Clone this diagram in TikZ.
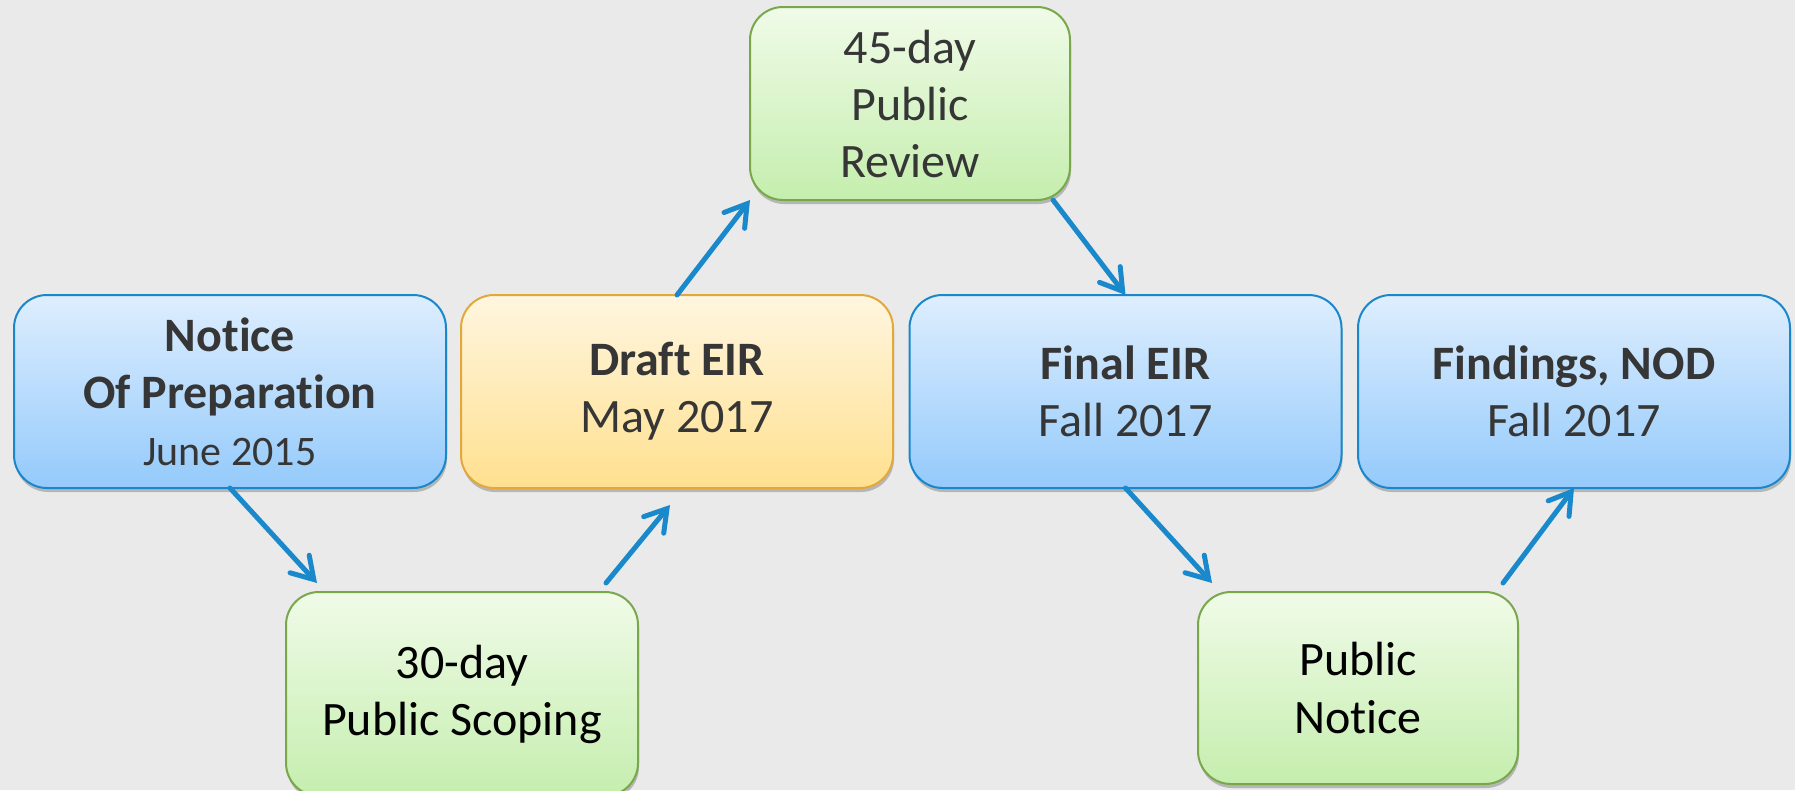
\documentclass[tikz,border=0pt]{standalone}
\usepackage{fontspec}
\setmainfont[Ligatures=NoCommon]{Carlito}
\usetikzlibrary{arrows.meta,calc,shadows}
\definecolor{bg}{HTML}{EAEAEA}
\definecolor{bluetop}{HTML}{DEEEFE}
\definecolor{bluebot}{HTML}{94CAFB}
\definecolor{blueline}{HTML}{1A87CB}
\definecolor{yeltop}{HTML}{FFF6E0}
\definecolor{yelbot}{HTML}{FFE08F}
\definecolor{yelline}{HTML}{E2A83C}
\definecolor{grntop}{HTML}{F0FBE8}
\definecolor{grnbot}{HTML}{C5EEAE}
\definecolor{grnline}{HTML}{78A84B}
\definecolor{txt}{HTML}{363636}
\definecolor{arrowc}{HTML}{1A89CC}
\begin{document}
\begin{tikzpicture}[x=1pt,y=-1pt,
  box/.style={rounded corners=33pt, line width=2pt, inner sep=0pt, outer sep=0pt,
    align=center, font=\fontsize{48}{57}\selectfont,
    drop shadow={shadow xshift=1pt, shadow yshift=-4pt, opacity=0.22, fill=black}},
  bluebox/.style={box, draw=blueline, top color=bluetop, bottom color=bluebot, text=txt,
    minimum width=432pt, minimum height=193pt},
  yelbox/.style={box, draw=yelline, top color=yeltop, bottom color=yelbot, text=txt,
    minimum width=432pt, minimum height=193pt},
  grnbox/.style={box, draw=grnline, top color=grntop, bottom color=grnbot},
  arr/.style={draw=arrowc, line width=5pt, line cap=round,
    -{Straight Barb[length=21pt,width=26pt,line cap=round]}}
]
\fill[bg] (0,0) rectangle (1795,790);
\useasboundingbox (0,0) rectangle (1795,790);

\node[bluebox] (notice) at (230,391.5)
  {{\bfseries Notice}\\{\bfseries Of Preparation}\\{\fontsize{42}{55}\selectfont June 2015}};
\node[yelbox] (draft) at (677,391.5)
  {{\bfseries Draft EIR}\\May 2017};
\node[bluebox] (final) at (1125.5,391.5)
  {{\bfseries Final EIR}\\Fall 2017};
\node[bluebox] (findings) at (1574,391.5)
  {{\bfseries Findings, NOD}\\Fall 2017};
\node[grnbox, text=txt, minimum width=320pt, minimum height=193pt] (review) at (910,103.5)
  {45-day\\Public\\Review};
\node[grnbox, text=black, minimum width=352pt, minimum height=204pt] (scoping) at (462,694)
  {30-day\\Public Scoping};
\node[grnbox, text=black, minimum width=320pt, minimum height=192pt] (pubnotice) at (1358,688)
  {Public\\Notice};

\draw[arr] (notice.south) -- ($(scoping.north west)+(31,-9)$);
\draw[arr] ($(scoping.north east)+(-32,-9)$) -- ($(draft.south)+(-7,17)$);
\draw[arr] (draft.north) -- (review.south west);
\draw[arr] ($(review.south east)+(-17,0)$) -- (final.north);
\draw[arr] (final.south) -- ($(pubnotice.north west)+(14,-9)$);
\draw[arr] ($(pubnotice.north east)+(-15,-9)$) -- (findings.south);
\end{tikzpicture}
\end{document}
